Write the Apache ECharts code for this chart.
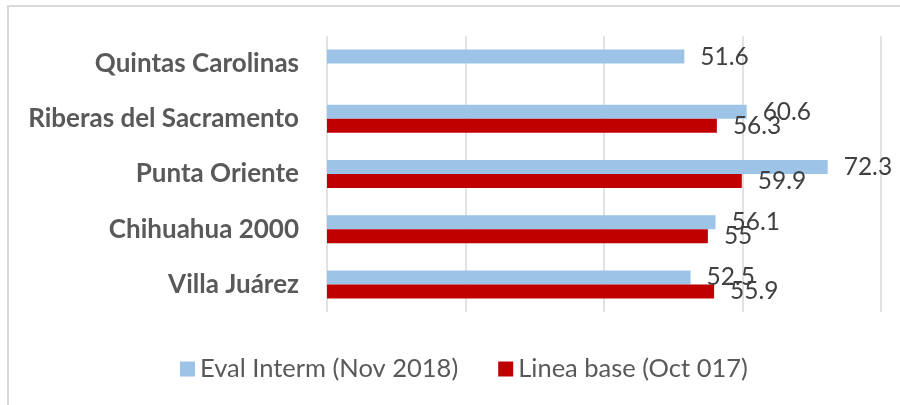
<!DOCTYPE html>
<html><head><meta charset="utf-8">
<script src="https://cdn.jsdelivr.net/npm/echarts@6/dist/echarts.min.js"></script>
<style>html,body{margin:0;padding:0;background:#fff}#c{width:900px;height:405px}</style>
</head><body><div id="c"></div>
<script>
const categories = ['Villa Juárez', 'Chihuahua 2000', 'Punta Oriente', 'Riberas del Sacramento', 'Quintas Carolinas'];
const evalInterm = [52.5, 56.1, 72.3, 60.6, 51.6];
const lineaBase = [55.9, 55, 59.9, 56.3, null];
const seriesNames = ['Eval Interm (Nov 2018)', 'Linea base (Oct 017)'];

const chart = echarts.init(document.getElementById('c'), null, {renderer: 'canvas'});
const lbl = {show: true, position: 'right', distance: 16, color: '#404040', fontFamily: 'Lato', fontSize: 24.5};
chart.setOption({
  animation: false,
  backgroundColor: '#fff',
  graphic: [{type: 'rect', shape: {x: 8, y: 6, width: 1000, height: 500}, style: {fill: 'none', stroke: '#d9d9d9', lineWidth: 2}, silent: true}],
  grid: {left: 327, right: 19, top: 36, bottom: 93, containLabel: false},
  legend: {
    data: seriesNames, left: 175, top: 351, icon: 'rect', itemWidth: 15, itemHeight: 15, itemGap: 40,
    textStyle: {fontFamily: 'Lato', fontSize: 25.5, color: '#595959', lineHeight: 26}
  },
  xAxis: {type: 'value', min: 0, max: 80, interval: 20,
    axisLabel: {show: false}, axisLine: {show: false}, axisTick: {show: false},
    splitLine: {show: true, lineStyle: {color: '#d9d9d9', width: 1.5}}},
  yAxis: {type: 'category', data: categories,
    axisLine: {show: false}, axisTick: {show: false},
    axisLabel: {margin: 28, fontFamily: 'Lato', fontWeight: 'bold', fontSize: 26, color: '#595959'}},
  series: [
    {name: seriesNames[0], type: 'bar', data: evalInterm, barWidth: 14, barGap: '0%', itemStyle: {color: '#9DC3E6'}, label: lbl},
    {name: seriesNames[1], type: 'bar', data: lineaBase, barWidth: 14, barGap: '0%', itemStyle: {color: '#C00000'}, label: lbl}
  ]
});
</script></body></html>
